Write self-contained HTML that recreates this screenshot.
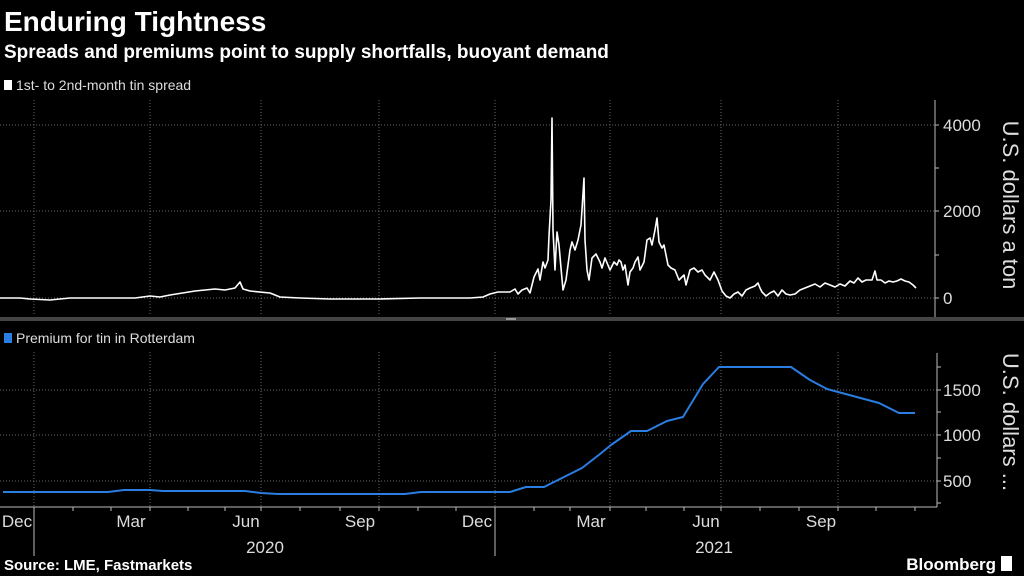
<!DOCTYPE html>
<html><head><meta charset="utf-8"><style>
body{margin:0;background:#000;width:1024px;height:576px;overflow:hidden;font-family:"Liberation Sans",sans-serif;color:#fff}
</style></head><body>
<svg width="1024" height="576" xmlns="http://www.w3.org/2000/svg" style="position:absolute;left:0;top:0">
<text x="4" y="31" font-size="28" font-weight="bold" fill="#fff">Enduring Tightness</text>
<text x="4" y="58" font-size="19" font-weight="bold" fill="#fff">Spreads and premiums point to supply shortfalls, buoyant demand</text>
<rect x="4" y="80" width="8" height="10" fill="#fff"/>
<text x="16" y="90" font-size="14" fill="#ddd">1st- to 2nd-month tin spread</text>
<g stroke="#666" stroke-dasharray="1,2" stroke-width="1">
<line x1="0" y1="125" x2="935" y2="125"/><line x1="0" y1="211" x2="935" y2="211"/><line x1="0" y1="298" x2="935" y2="298"/>
<line x1="34" y1="100" x2="34" y2="316"/><line x1="150" y1="100" x2="150" y2="316"/><line x1="261" y1="100" x2="261" y2="316"/><line x1="379" y1="100" x2="379" y2="316"/><line x1="495" y1="100" x2="495" y2="316"/><line x1="610" y1="100" x2="610" y2="316"/><line x1="721" y1="100" x2="721" y2="316"/><line x1="838" y1="100" x2="838" y2="316"/>
<line x1="0" y1="390" x2="937" y2="390"/><line x1="0" y1="435" x2="937" y2="435"/><line x1="0" y1="481" x2="937" y2="481"/>
<line x1="34" y1="352" x2="34" y2="506"/><line x1="150" y1="352" x2="150" y2="506"/><line x1="261" y1="352" x2="261" y2="506"/><line x1="379" y1="352" x2="379" y2="506"/><line x1="495" y1="352" x2="495" y2="506"/><line x1="610" y1="352" x2="610" y2="506"/><line x1="721" y1="352" x2="721" y2="506"/><line x1="838" y1="352" x2="838" y2="506"/>
</g>
<rect x="0" y="317" width="1024" height="4" fill="#444"/>
<rect x="506" y="318" width="10" height="2" fill="#999"/>
<g stroke="#bbb" stroke-width="1">
<line x1="935" y1="100" x2="935" y2="317"/>
<line x1="935" y1="125" x2="939" y2="125"/><line x1="935" y1="168" x2="939" y2="168"/><line x1="935" y1="211" x2="939" y2="211"/><line x1="935" y1="255" x2="939" y2="255"/><line x1="935" y1="298" x2="939" y2="298"/>
<line x1="937" y1="353" x2="937" y2="507"/>
<line x1="937" y1="367" x2="941" y2="367"/><line x1="937" y1="390" x2="941" y2="390"/><line x1="937" y1="412" x2="941" y2="412"/><line x1="937" y1="435" x2="941" y2="435"/><line x1="937" y1="458" x2="941" y2="458"/><line x1="937" y1="481" x2="941" y2="481"/><line x1="937" y1="503" x2="941" y2="503"/>
<line x1="0" y1="507" x2="937" y2="507"/>
<line x1="34" y1="507" x2="34" y2="556"/><line x1="495" y1="507" x2="495" y2="556"/>
</g>
<g stroke="#bbb">
<line x1="73" y1="507" x2="73" y2="511"/><line x1="111" y1="507" x2="111" y2="511"/><line x1="150" y1="507" x2="150" y2="511"/><line x1="188" y1="507" x2="188" y2="511"/><line x1="225" y1="507" x2="225" y2="511"/><line x1="261" y1="507" x2="261" y2="511"/><line x1="300" y1="507" x2="300" y2="511"/><line x1="340" y1="507" x2="340" y2="511"/><line x1="379" y1="507" x2="379" y2="511"/><line x1="418" y1="507" x2="418" y2="511"/><line x1="456" y1="507" x2="456" y2="511"/><line x1="534" y1="507" x2="534" y2="511"/><line x1="570" y1="507" x2="570" y2="511"/><line x1="610" y1="507" x2="610" y2="511"/><line x1="646" y1="507" x2="646" y2="511"/><line x1="684" y1="507" x2="684" y2="511"/><line x1="721" y1="507" x2="721" y2="511"/><line x1="760" y1="507" x2="760" y2="511"/><line x1="799" y1="507" x2="799" y2="511"/><line x1="838" y1="507" x2="838" y2="511"/><line x1="876" y1="507" x2="876" y2="511"/><line x1="915" y1="507" x2="915" y2="511"/>
</g>
<g font-size="17" fill="#ddd">
<text x="943" y="131">4000</text><text x="943" y="217">2000</text><text x="943" y="304">0</text>
<text x="943" y="396">1500</text><text x="943" y="441">1000</text><text x="943" y="487">500</text>
</g>
<text transform="translate(1003,205) rotate(90)" text-anchor="middle" font-size="22" fill="#ddd">U.S. dollars a ton</text>
<text transform="translate(1003,422) rotate(90)" text-anchor="middle" font-size="22" fill="#ddd">U.S. dollars ...</text>
<polyline fill="none" stroke="#fff" stroke-width="1.6" stroke-linejoin="round" points="0,298 20,298 30,299 50,300 70,298 135,298 150,296 160,297 170,295 195,291 215,289 225,290 235,288 240,282 243,289 250,291 270,293 280,297 300,298 330,299 360,299 380,299 420,298 470,298 483,297 490,294 498,292 510,292 515,289 518,294 522,290 527,288 530,293 534,277 538,269 540,280 543,262 545,268 548,260 549,236 551,200 552,118 553,230 555,270 556,250 557,232 559,245 561,268 563,290 566,280 570,250 572,242 575,250 578,240 581,225 584,178 585,240 587,270 589,280 592,258 596,254 600,262 602,268 605,258 610,270 614,262 617,265 619,260 621,262 623,270 625,265 628,285 630,272 633,268 635,262 638,257 640,270 644,262 647,240 650,238 652,245 655,230 657,218 659,242 662,248 664,245 668,265 671,268 675,270 679,280 681,278 684,275 686,285 690,270 694,268 698,272 702,270 705,275 710,280 714,272 718,280 722,291 726,296 730,298 734,294 738,292 742,296 746,290 750,288 755,286 758,283 760,288 762,292 766,296 770,293 774,291 778,296 782,290 786,294 790,295 795,294 800,290 805,288 810,286 815,284 820,287 825,283 830,285 835,287 840,284 845,286 850,281 854,283 858,278 862,282 866,280 872,280 875,271 877,280 881,280 885,283 889,281 893,282 897,281 901,279 905,281 909,282 913,285 916,288"/>
<rect x="4" y="333" width="8" height="10" fill="#2a7de1"/>
<text x="16" y="343" font-size="14" fill="#ddd">Premium for tin in Rotterdam</text>
<polyline fill="none" stroke="#2a7de1" stroke-width="2" stroke-linejoin="round" points="3,492 108,492 124,490 150,490 163,491 245,491 261,493 278,494 405,494 421,492 510,492 526,487 544,487 582,468 600,454 611,445 631,431 647,431 667,421 683,417 703,384 719,367 791,367 810,380 827,389 879,403 899,413 915,413"/>
<g font-size="17" fill="#ddd" text-anchor="middle">
<text x="17" y="527">Dec</text><text x="131" y="527">Mar</text><text x="246" y="527">Jun</text><text x="360" y="527">Sep</text><text x="477" y="527">Dec</text><text x="591" y="527">Mar</text><text x="706" y="527">Jun</text><text x="821" y="527">Sep</text>
<text x="265" y="553">2020</text><text x="714" y="553">2021</text>
</g>
<text x="4" y="570" font-size="15" font-weight="bold" fill="#fff">Source: LME, Fastmarkets</text>
<text x="996" y="570" font-size="17" font-weight="bold" fill="#fff" text-anchor="end">Bloomberg</text>
<rect x="1001" y="556" width="11" height="15" fill="#fff"/>
</svg>
</body></html>
